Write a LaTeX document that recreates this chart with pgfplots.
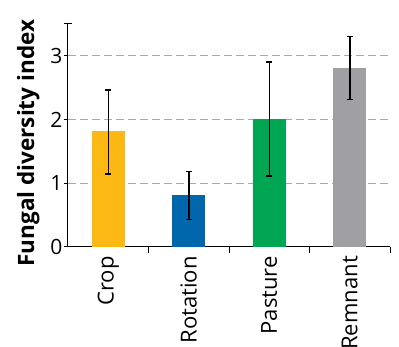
\documentclass[border=0pt]{standalone}
\usepackage{fontspec}
\setmainfont{Open Sans}
\usepackage{pgfplots}
\pgfplotsset{compat=1.18}
\definecolor{cCrop}{RGB}{253,185,19}
\definecolor{cRot}{RGB}{0,103,172}
\definecolor{cPas}{RGB}{0,166,81}
\definecolor{cRem}{RGB}{160,159,164}
\definecolor{gridc}{RGB}{170,170,170}
\begin{document}
\begin{tikzpicture}
\useasboundingbox (-68pt,-100.3pt) rectangle (331pt,246.7pt);
\begin{axis}[
  at={(0pt,0pt)}, anchor=south west,
  scale only axis, width=322pt, height=222.7pt,
  xmin=-0.5, xmax=3.5, ymin=0, ymax=3.5,
  axis lines=left, axis line style={-, line width=1pt},
  ybar, bar width=33pt,
  xtick={0,1,2,3}, xticklabels={Crop,Rotation,Pasture,Remnant},
  major x tick style={draw=none},
  minor xtick={0.5,1.5,2.5,3.5},
  minor x tick style={line width=1pt, black},
  minor tick length=6pt,
  ytick={0,1,2,3},
  extra y ticks={3.5}, extra y tick labels={},
  extra y tick style={tick align=center, major tick length=8pt, grid=none},
  tick align=outside, major tick length=4pt,
  tick style={line width=1pt, black},
  ymajorgrids, grid style={gridc, dash pattern=on 8pt off 4pt, line width=0.8pt},
  x tick label style={rotate=90, anchor=east, font=\fontsize{22}{24}\selectfont},
  y tick label style={font=\fontsize{21}{23}\selectfont},
  xticklabel shift=2pt,
  yticklabel shift=-2pt,
  ylabel={\bfseries Fungal diversity index},
  ylabel style={font=\fontsize{22.5}{24}\selectfont, at={(ticklabel cs:0.465)}},
  /pgf/number format/assume math mode=true,
  error bars/error bar style={line width=1.5pt, black},
  error bars/error mark options={rotate=90, mark size=3pt, line width=1.5pt, black},
]
\addplot[fill=cCrop, draw=none, bar shift=0pt, error bars/.cd, y dir=both, y explicit]
  coordinates {(0,1.82) += (0,0.64) -= (0,0.68)};
\addplot[fill=cRot, draw=none, bar shift=0pt, error bars/.cd, y dir=both, y explicit]
  coordinates {(1,0.82) += (0,0.36) -= (0,0.39)};
\addplot[fill=cPas, draw=none, bar shift=0pt, error bars/.cd, y dir=both, y explicit]
  coordinates {(2,2.01) += (0,0.89) -= (0,0.90)};
\addplot[fill=cRem, draw=none, bar shift=0pt, error bars/.cd, y dir=both, y explicit]
  coordinates {(3,2.81) += (0,0.49) -= (0,0.50)};
\end{axis}
\end{tikzpicture}
\end{document}
